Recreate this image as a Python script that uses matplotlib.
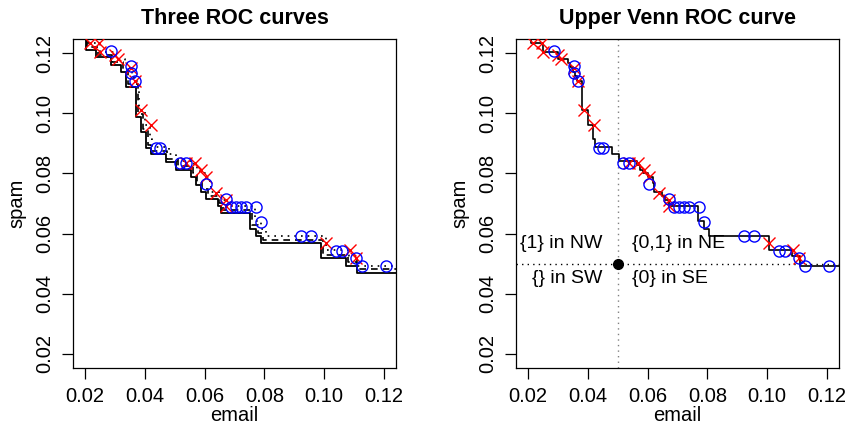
import matplotlib
matplotlib.use('Agg')
import matplotlib.pyplot as plt
import numpy as np

plt.rcParams['font.family'] = ['Liberation Sans', 'DejaVu Sans']

## step curves: x where the curve drops, y level after the drop
lower_x = [0.0180, 0.0202, 0.0238, 0.0288, 0.0322, 0.0338, 0.0372, 0.0388, 0.0405, 0.0422,
           0.0472, 0.0506, 0.0556, 0.0572, 0.0589, 0.0606, 0.0645, 0.0656, 0.0751, 0.0773,
           0.0790, 0.0990, 0.1074, 0.1108, 0.1260]
lower_y = [0.1260, 0.1211, 0.1186, 0.1160, 0.1136, 0.1086, 0.0986, 0.0938, 0.0886, 0.0863,
           0.0838, 0.0813, 0.0789, 0.0763, 0.0738, 0.0716, 0.0691, 0.0667, 0.0616, 0.0591,
           0.0567, 0.0519, 0.0493, 0.0469, 0.0469]

mid_x = [0.0185, 0.0206, 0.0243, 0.0292, 0.0326, 0.0344, 0.0376, 0.0393, 0.0410, 0.0420,
         0.0474, 0.0510, 0.0560, 0.0576, 0.0592, 0.0610, 0.0648, 0.0662, 0.0760, 0.0778,
         0.0795, 0.0996, 0.1078, 0.1110, 0.1260]
mid_y = [0.1260, 0.1221, 0.1195, 0.1170, 0.1148, 0.1096, 0.0996, 0.0948, 0.0896, 0.0873,
         0.0848, 0.0824, 0.0800, 0.0773, 0.0748, 0.0725, 0.0700, 0.0677, 0.0627, 0.0603,
         0.0580, 0.0530, 0.0505, 0.0481, 0.0481]

upper_x = [0.0190, 0.0210, 0.0251, 0.0299, 0.0333, 0.0341, 0.0349, 0.0358, 0.0364, 0.0380,
           0.0400, 0.0416, 0.0425, 0.0480, 0.0503, 0.0564, 0.0575, 0.0586, 0.0603, 0.0617,
           0.0623, 0.0648, 0.0659, 0.0670, 0.0768, 0.0787, 0.0804, 0.1005, 0.1083, 0.1111,
           0.1260]
upper_y = [0.1260, 0.1233, 0.1204, 0.1182, 0.1167, 0.1153, 0.1136, 0.1124, 0.1107, 0.1011,
           0.0960, 0.0916, 0.0889, 0.0863, 0.0840, 0.0827, 0.0811, 0.0802, 0.0789, 0.0767,
           0.0738, 0.0724, 0.0713, 0.0691, 0.0641, 0.0616, 0.0593, 0.0544, 0.0527, 0.0493,
           0.0493]

## points of the two classifiers
red_x = [0.0217, 0.0247, 0.0250, 0.0300, 0.0310, 0.0354, 0.0367, 0.0387, 0.0421, 0.0539,
         0.0567, 0.0587, 0.0606, 0.0639, 0.0670, 0.0673, 0.1007, 0.1085, 0.1105]
red_y = [0.1233, 0.1233, 0.1203, 0.1193, 0.1180, 0.1150, 0.1107, 0.1010, 0.0960, 0.0836,
         0.0836, 0.0810, 0.0789, 0.0736, 0.0713, 0.0691, 0.0569, 0.0544, 0.0519]

blue_x = [0.0287, 0.0354, 0.0354, 0.0367, 0.0436, 0.0452, 0.0519, 0.0537, 0.0606, 0.0670,
          0.0688, 0.0706, 0.0722, 0.0740, 0.0771, 0.0789, 0.0922, 0.0956, 0.1041, 0.1058,
          0.1105, 0.1125, 0.1206]
blue_y = [0.1207, 0.1157, 0.1133, 0.1107, 0.0884, 0.0884, 0.0836, 0.0836, 0.0764, 0.0716,
          0.0689, 0.0689, 0.0689, 0.0689, 0.0689, 0.0640, 0.0591, 0.0591, 0.0542, 0.0542,
          0.0518, 0.0491, 0.0493]

ticks = [0.02, 0.04, 0.06, 0.08, 0.10, 0.12]
tick_labels = ['0.02', '0.04', '0.06', '0.08', '0.10', '0.12']
origin = (0.05, 0.05)


def setup(ax, title):
    ax.set_xlim(0.016, 0.124)
    ax.set_ylim(0.0153, 0.1247)
    ax.set_xticks(ticks)
    ax.set_xticklabels(tick_labels)
    ax.set_yticks(ticks)
    ax.set_yticklabels(tick_labels, rotation=90, va='center')
    ax.tick_params(direction='out', length=8, width=0.9, labelsize=14.5, pad=5.5)
    for s in ax.spines.values():
        s.set_linewidth(0.9)
    ax.set_xlabel('email', fontsize=14.5, labelpad=0)
    ax.set_ylabel('spam', fontsize=14.5, labelpad=6)
    ax.set_title(title, fontsize=15.5, fontweight='bold', pad=11)


def points(ax):
    ax.plot(red_x, red_y, 'x', color='red', ms=8, mew=1.0, zorder=3)
    ax.plot(blue_x, blue_y, 'o', mfc='none', mec='blue', ms=8, mew=1.0, zorder=3)


fig = plt.figure(figsize=(8.51, 4.29), dpi=100)
ax1 = fig.add_axes([73/851, 61/429, 323/851, 329/429])
ax2 = fig.add_axes([516/851, 61/429, 323/851, 329/429])

ax1.step(lower_x, lower_y, where='post', color='black', lw=1.3)
ax1.step(mid_x, mid_y, where='post', color='black', lw=1.2, ls=(0, (4, 3)))
ax1.step(upper_x, upper_y, where='post', color='black', lw=1.2, ls=(0, (1, 3)))
points(ax1)
setup(ax1, 'Three ROC curves')

ax2.axvline(origin[0], color='gray', lw=1, ls=(0, (1, 3)))
ax2.axhline(origin[1], color='black', lw=1, ls=(0, (1, 3)))
ax2.step(upper_x, upper_y, where='post', color='black', lw=1.2)
points(ax2)
ax2.plot(*origin, 'o', color='black', ms=7, zorder=4)
ax2.text(0.0448, 0.0567, '{1} in NW', ha='right', va='center', fontsize=14)
ax2.text(0.0548, 0.0567, '{0,1} in NE', ha='left', va='center', fontsize=14)
ax2.text(0.0448, 0.0450, '{} in SW', ha='right', va='center', fontsize=14)
ax2.text(0.0548, 0.0450, '{0} in SE', ha='left', va='center', fontsize=14)
setup(ax2, 'Upper Venn ROC curve')

fig.savefig('out.png', dpi=100)
